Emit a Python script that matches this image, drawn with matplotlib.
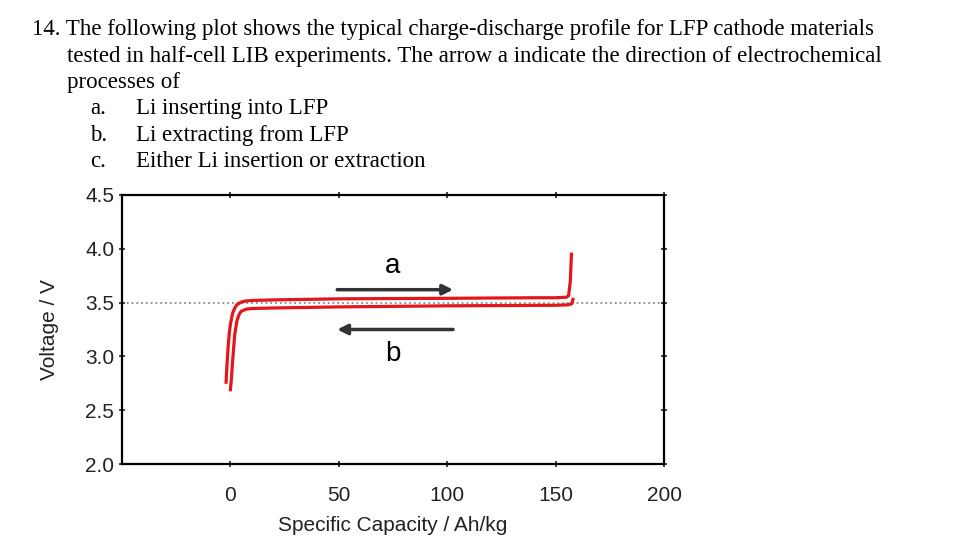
import matplotlib.pyplot as plt

# Question text
question = ["14. The following plot shows the typical charge-discharge profile for LFP cathode materials",
            "tested in half-cell LIB experiments. The arrow a indicate the direction of electrochemical",
            "processes of"]
options = [("a.", "Li inserting into LFP"),
           ("b.", "Li extracting from LFP"),
           ("c.", "Either Li insertion or extraction")]

# Charge curve (upper)
charge_cap = [-2, -1.5, -1, -0.5, 0, 1, 2, 3, 5, 7, 10, 20, 50, 100, 140, 150, 155, 156, 156.8, 157.3]
charge_v = [2.76, 2.95, 3.1, 3.22, 3.3, 3.4, 3.45, 3.48, 3.505, 3.515, 3.52, 3.525, 3.535, 3.54, 3.545, 3.545, 3.55, 3.565, 3.7, 3.95]

# Discharge curve (lower)
discharge_cap = [158, 157.5, 156, 150, 100, 50, 20, 10, 7.4, 5, 4, 3, 2, 1.5, 1, 0.5, 0]
discharge_v = [3.53, 3.49, 3.48, 3.475, 3.47, 3.46, 3.45, 3.445, 3.44, 3.42, 3.39, 3.33, 3.2, 3.08, 2.95, 2.8, 2.69]

x_ticks = [0, 50, 100, 150, 200]
y_ticks = [2.0, 2.5, 3.0, 3.5, 4.0, 4.5]

fig = plt.figure(figsize=(9.64, 5.57), dpi=100)

# question text in a Times-like serif
serif = 'Liberation Serif'
fs = 16.5
y0 = 1 - 30 / 557
for i, line in enumerate(question):
    x = 32 / 964 if i == 0 else 67 / 964
    fig.text(x, y0 - i * 26.3 / 557, line, family=serif, fontsize=fs, va='center')
for j, (lab, txt) in enumerate(options):
    yy = y0 - (3 + j) * 26.3 / 557
    fig.text(90 / 964, yy, lab, family=serif, fontsize=fs, va='center')
    fig.text(136 / 964, yy, txt, family=serif, fontsize=fs, va='center')

ax = fig.add_axes([122 / 964, 1 - 464 / 557, 542 / 964, 269 / 557])

ax.axhline(3.5, color='#8a8a8a', lw=1.3, ls=':', zorder=1)
ax.plot(charge_cap, charge_v, color='#e3161c', lw=2.3, zorder=3)
ax.plot(discharge_cap, discharge_v, color='#e3161c', lw=2.3, zorder=3)

# arrows a and b
ax.annotate('', xy=(104, 3.62), xytext=(48, 3.62),
            arrowprops=dict(arrowstyle='-|>', color='#333333', lw=2.5, mutation_scale=15))
ax.annotate('', xy=(48, 3.25), xytext=(104, 3.25),
            arrowprops=dict(arrowstyle='-|>', color='#333333', lw=2.5, mutation_scale=15))
ax.text(75, 3.84, 'a', fontsize=20, family='Liberation Sans', ha='center', va='center')
ax.text(75, 3.02, 'b', fontsize=20, family='Liberation Sans', ha='center', va='center')

ax.set_xlim(-50, 200)
ax.set_ylim(2.0, 4.5)
ax.set_xticks(x_ticks)
ax.set_yticks(y_ticks)
ax.set_yticklabels(['%.1f' % v for v in y_ticks])
ax.tick_params(axis='both', labelsize=15, width=1.2, length=5, direction='inout', colors='#222222')
ax.tick_params(axis='y', pad=3)
ax.tick_params(axis='x', pad=13)
ax.tick_params(top=True, right=True)
for lab in ax.get_xticklabels() + ax.get_yticklabels():
    lab.set_family('Liberation Sans')
for s in ax.spines.values():
    s.set_linewidth(1.6)

ax.set_xlabel('Specific Capacity / Ah/kg', fontsize=15, family='Liberation Sans', labelpad=8, color='#222222')
ax.set_ylabel('Voltage / V', fontsize=15, family='Liberation Sans', labelpad=19, color='#222222')

plt.savefig('out.png', dpi=100)
